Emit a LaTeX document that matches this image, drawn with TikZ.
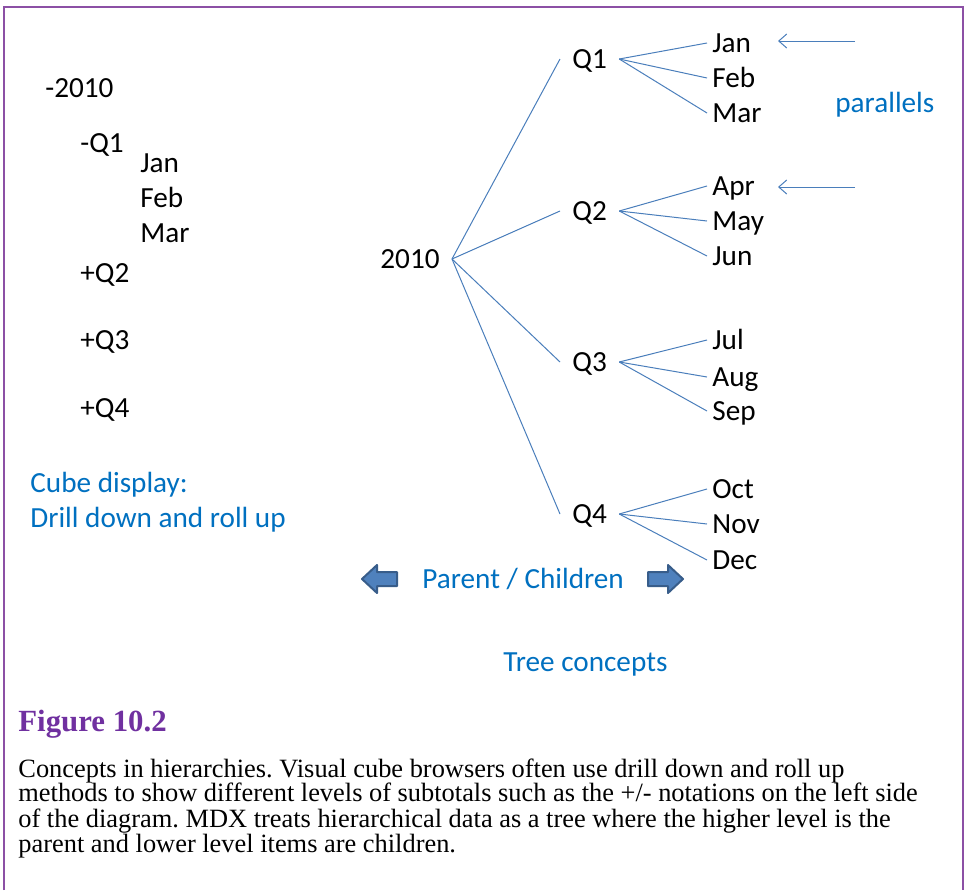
\documentclass[tikz,border=0pt]{standalone}
\usepackage{fontspec}
\newfontfamily\diagfont{Carlito}
\newfontfamily\capfont{Liberation Serif}
\usepackage{tikz}
\usetikzlibrary{arrows.meta,positioning}
\definecolor{framepurple}{RGB}{140,80,165}
\definecolor{figpurple}{RGB}{112,48,160}
\definecolor{textblue}{RGB}{0,112,192}
\definecolor{lineblue}{RGB}{74,126,187}
\definecolor{arrowfill}{RGB}{79,129,189}
\definecolor{arrowdraw}{RGB}{56,93,138}
\tikzset{
    item/.style={anchor=west,inner xsep=0pt,inner ysep=0pt,text height=9.4pt,text depth=0pt,node font=\diagfont\fontsize{14.6}{16}\selectfont},
    note/.style={item,text=textblue},
    treenode/.style={item,inner xsep=6pt},
    leaf/.style={item,inner xsep=2.5pt},
    branch/.style={draw=lineblue,line width=0.5pt},
    pointer/.style={draw=lineblue,line width=0.5pt,-{Straight Barb[length=4pt,width=7pt]}},
    blockarrow/.style={fill=arrowfill,draw=arrowdraw,line width=1pt,line join=round},
}
\setlength{\lineskiplimit}{-10pt}
\setlength{\lineskip}{0pt}

\begin{document}
\frenchspacing
\begin{tikzpicture}[x=0.5pt,y=-0.5pt]
    \useasboundingbox (0,0) rectangle (965,890);
    \draw [framepurple,line width=1pt] (4,890) -- (4,7) -- (963,7) -- (963,890);

    % drill down list
    \node [item] (l2010) at (45,88)  {-2010};
    \node [item] (lq1)   at (80,143) {-Q1};
    \node [item] (ljan)  at (140,163) {Jan};
    \node [item] (lfeb)  at (140,198) {Feb};
    \node [item] (lmar)  at (140,233) {Mar};
    \node [item] (lq2)   at (80,273) {+Q2};
    \node [item] (lq3)   at (80,340) {+Q3};
    \node [item] (lq4)   at (80,408) {+Q4};
    \node [note] (cube)  at (30,483) {Cube display:};
    \node [note] (drill) at (30,518) {Drill down and roll up};

    % tree
    \node [treenode] (y2010) at (368,259) {2010};
    \node [treenode] (q1) at (560,59)  {Q1};
    \node [treenode] (q2) at (560,211) {Q2};
    \node [treenode] (q3) at (560,362) {Q3};
    \node [treenode] (q4) at (560,514) {Q4};
    \path [branch] (y2010.east) -- (q1.west);
    \path [branch] (y2010.east) -- (q2.west);
    \path [branch] (y2010.east) -- (q3.west);
    \path [branch] (y2010.east) -- (q4.west);

    \node [leaf] (jan) at (707,43)  {Jan};
    \node [leaf] (feb) at (707,78)  {Feb};
    \node [leaf] (mar) at (707,113) {Mar};
    \path [branch] (q1.east) -- (jan.west);
    \path [branch] (q1.east) -- (feb.west);
    \path [branch] (q1.east) -- (mar.west);

    \node [leaf] (apr) at (707,186) {Apr};
    \node [leaf] (may) at (707,221) {May};
    \node [leaf] (jun) at (707,256) {Jun};
    \path [branch] (q2.east) -- (apr.west);
    \path [branch] (q2.east) -- (may.west);
    \path [branch] (q2.east) -- (jun.west);

    \node [leaf] (jul) at (707,340) {Jul};
    \node [leaf] (aug) at (707,377) {Aug};
    \node [leaf] (sep) at (707,411) {Sep};
    \path [branch] (q3.east) -- (jul.west);
    \path [branch] (q3.east) -- (aug.west);
    \path [branch] (q3.east) -- (sep.west);

    \node [leaf] (oct) at (707,489) {Oct};
    \node [leaf] (nov) at (707,524) {Nov};
    \node [leaf] (dec) at (707,560) {Dec};
    \path [branch] (q4.east) -- (oct.west);
    \path [branch] (q4.east) -- (nov.west);
    \path [branch] (q4.east) -- (dec.west);

    % parallels
    \node [note] (para) at (835,103) {parallels};
    \coordinate (p1from) at (855,41);
    \coordinate (p1to)   at (778,41);
    \coordinate (p2from) at (855,187);
    \coordinate (p2to)   at (778,187);
    \path [pointer] (p1from) -- (p1to);
    \path [pointer] (p2from) -- (p2to);

    % parent / children
    \node [note] (parent) at (422,579) {Parent / Children};
    \coordinate (larr) at (362,579);
    \coordinate (rarr) at (683,579);
    \draw [blockarrow] (larr) -- ++(15,-14) -- ++(0,7) -- ++(20,0) -- ++(0,14) -- ++(-20,0) -- ++(0,7) -- cycle;
    \draw [blockarrow] (rarr) -- ++(-15,-14) -- ++(0,7) -- ++(-20,0) -- ++(0,14) -- ++(20,0) -- ++(0,7) -- cycle;
    \node [note] (tree) at (503,662) {Tree concepts};

    % caption
    \node [anchor=base west,inner sep=0pt,text=figpurple,node font=\capfont\bfseries\fontsize{15.4}{15.4}\selectfont] (figtitle) at (18,731) {Figure 10.2};
    \node [anchor=north west,inner sep=0pt,align=left,node font=\capfont\fontsize{13.2}{12.5}\selectfont] (caption) at (18,758)
        {Concepts in hierarchies. Visual cube browsers often use drill down and roll up\\
         methods to show different levels of subtotals such as the +/- notations on the left side\\
         of the diagram. MDX treats hierarchical data as a tree where the higher level is the\\
         parent and lower level items are children.};
\end{tikzpicture}
\end{document}
